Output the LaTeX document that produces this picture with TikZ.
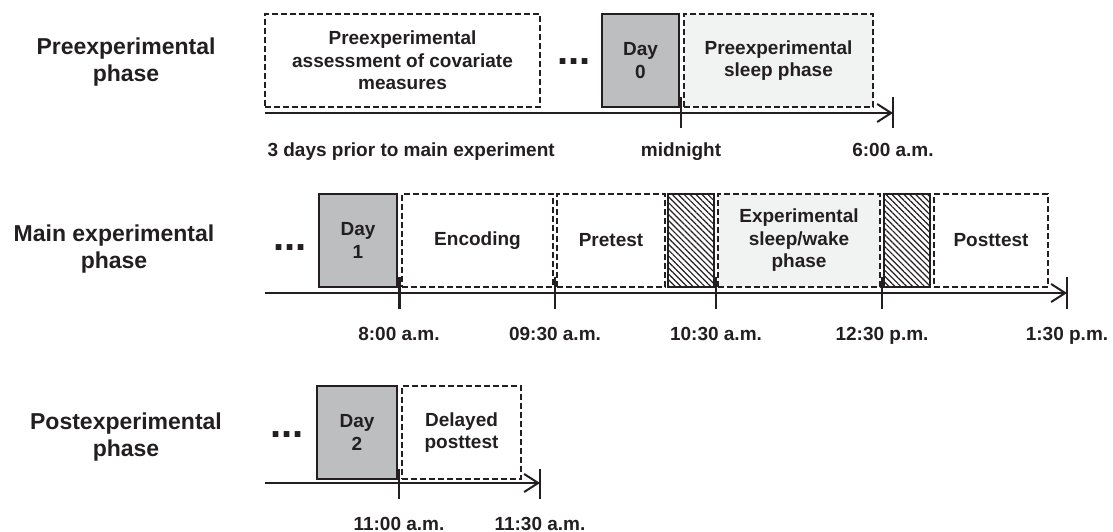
\documentclass[tikz,border=0pt]{standalone}
\usepackage{fontspec}
\setmainfont{Liberation Sans}
\usetikzlibrary{arrows.meta, positioning, patterns.meta}
\definecolor{ink}{HTML}{231F20}
\definecolor{dayfill}{HTML}{BCBEC0}
\definecolor{sleepfill}{HTML}{F1F2F2}
\tikzset{
  phasebox/.style  = {font=\bfseries\fontsize{19}{22.5}\selectfont, text=ink, align=center,
                      draw=ink, line width=1.8pt, dash pattern=on 6pt off 3pt,
                      minimum height=93pt, inner sep=0pt, outer sep=0pt},
  sleepbox/.style  = {phasebox, fill=sleepfill},
  daybox/.style    = {phasebox, solid, fill=dayfill, line width=2pt},
  breakbox/.style  = {draw=ink, line width=2pt, minimum height=93pt, minimum width=46pt,
                      inner sep=0pt, outer sep=0pt,
                      pattern={Lines[angle=-45, distance=4.2pt, line width=1.2pt]},
                      pattern color=ink},
  phaselabel/.style= {font=\bfseries\fontsize{23}{27}\selectfont, text=ink, align=center},
  timelabel/.style = {font=\bfseries\fontsize{19}{22.5}\selectfont, text=ink, anchor=base},
  gap/.style       = {font=\bfseries\fontsize{40}{40}\selectfont, text=ink, anchor=base},
  axis/.style      = {-{Straight Barb[length=14pt, width=18pt]}, line width=2pt, draw=ink},
  tick/.style      = {line width=1.8pt, draw=ink},
}
\begin{document}
\begin{tikzpicture}[x=1pt, y=-1pt]
  \useasboundingbox (0,0) rectangle (1113,532);
  % left labels
  \node[phaselabel] (lpre)  at (126,62)  {Preexperimental\\phase};
  \node[phaselabel] (lmain) at (114,249) {Main experimental\\phase};
  \node[phaselabel] (lpost) at (126,437) {Postexperimental\\phase};

  % preexperimental phase
  \node[phasebox, minimum width=275pt, anchor=south west] (assess) at (265,107)
        {Preexperimental\\assessment of covariate\\measures};
  \node[gap] (dots0) at (574,65) {...};
  \node[daybox, minimum width=77pt, anchor=south west] (day0) at (602,107) {Day\\0};
  \node[sleepbox, minimum width=189pt, right=5pt of day0] (presleep) {Preexperimental\\sleep phase};
  \coordinate (a0) at (265,113);
  \coordinate (m0) at (681,113);
  \coordinate (e0) at (893,113);
  \draw[axis] (a0) -- (e0);
  \draw[tick] (m0) ++(0,-16) -- ++(0,31);
  \draw[tick] (e0) ++(0,-16) -- ++(0,31);
  \node[timelabel, anchor=base west] (t3d) at (264,157) {3 days prior to main experiment};
  \node[timelabel] (tmid) at (681,157) {midnight};
  \node[timelabel] (t600) at (893,157) {6:00 a.m.};

  % main experimental phase
  \node[gap] (dots1) at (290,250) {...};
  \node[daybox, minimum width=78pt, anchor=south west] (day1) at (319,287) {Day\\1};
  \node[phasebox, minimum width=151pt, right=5pt of day1] (enc) {Encoding};
  \node[phasebox, minimum width=108pt, right=4pt of enc] (pre) {Pretest};
  \node[breakbox, right=3pt of pre] (brk1) {};
  \node[sleepbox, minimum width=162pt, right=4pt of brk1] (expsleep) {Experimental\\sleep/wake\\phase};
  \node[breakbox, right=4pt of expsleep] (brk2) {};
  \node[phasebox, minimum width=114pt, right=4pt of brk2] (post) {Posttest};
  \coordinate (a1) at (265,293);
  \coordinate (m1) at (399,293);
  \coordinate (m2) at (555,293);
  \coordinate (m3) at (716,293);
  \coordinate (m4) at (882,293);
  \coordinate (e1) at (1067,293);
  \draw[axis] (a1) -- (e1);
  \draw[tick, line width=3pt] (m1) ++(0,-16) -- ++(0,32);
  \foreach \m in {m2, m3, m4, e1}
    \draw[tick] (\m) ++(0,-16) -- ++(0,32);
  \node[timelabel] (t800)  at (399,340)  {8:00 a.m.};
  \node[timelabel] (t930)  at (555,340)  {09:30 a.m.};
  \node[timelabel] (t1030) at (716,340)  {10:30 a.m.};
  \node[timelabel] (t1230) at (882,340)  {12:30 p.m.};
  \node[timelabel] (t130)  at (1067,340) {1:30 p.m.};

  % postexperimental phase
  \node[gap] (dots2) at (287,437) {...};
  \node[daybox, minimum width=80pt, anchor=south west] (day2) at (317,479) {Day\\2};
  \node[phasebox, minimum width=119pt, right=5pt of day2] (delayed) {Delayed\\posttest};
  \coordinate (a2) at (265,483);
  \coordinate (m5) at (399,483);
  \coordinate (e2) at (540,483);
  \draw[axis] (a2) -- (e2);
  \draw[tick] (m5) ++(0,-14) -- ++(0,30);
  \draw[tick] (e2) ++(0,-14) -- ++(0,30);
  \node[timelabel] (t1100) at (399,530) {11:00 a.m.};
  \node[timelabel] (t1130) at (540,530) {11:30 a.m.};
\end{tikzpicture}
\end{document}
